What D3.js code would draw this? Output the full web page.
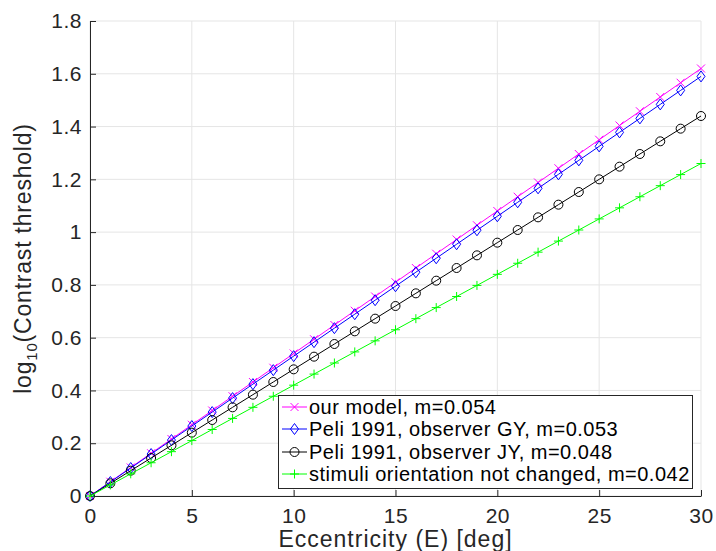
<!DOCTYPE html>
<html><head><meta charset="utf-8">
<script src="https://cdn.jsdelivr.net/npm/d3@7"></script>
<style>body{margin:0;background:#fff}svg text{font-family:"Liberation Sans",Arial,Helvetica,sans-serif;fill:#262626}</style>
</head><body><svg id="c" width="716" height="551"></svg>
<script>
const eccentricity = [0,1,2,3,4,5,6,7,8,9,10,11,12,13,14,15,16,17,18,19,20,21,22,23,24,25,26,27,28,29,30];
const ourModel = [0,0.054,0.108,0.162,0.216,0.27,0.324,0.378,0.432,0.486,0.54,0.594,0.648,0.702,0.756,0.81,0.864,0.918,0.972,1.026,1.08,1.134,1.188,1.242,1.296,1.35,1.404,1.458,1.512,1.566,1.62];
const peliGY = [0,0.053,0.106,0.159,0.212,0.265,0.318,0.371,0.424,0.477,0.53,0.583,0.636,0.689,0.742,0.795,0.848,0.901,0.954,1.007,1.06,1.113,1.166,1.219,1.272,1.325,1.378,1.431,1.484,1.537,1.59];
const peliJY = [0,0.048,0.096,0.144,0.192,0.24,0.288,0.336,0.384,0.432,0.48,0.528,0.576,0.624,0.672,0.72,0.768,0.816,0.864,0.912,0.96,1.008,1.056,1.104,1.152,1.2,1.248,1.296,1.344,1.392,1.44];
const notChanged = [0,0.042,0.084,0.126,0.168,0.21,0.252,0.294,0.336,0.378,0.42,0.462,0.504,0.546,0.588,0.63,0.672,0.714,0.756,0.798,0.84,0.882,0.924,0.966,1.008,1.05,1.092,1.134,1.176,1.218,1.26];
const seriesNames = ["our model, m=0.054","Peli 1991, observer GY, m=0.053","Peli 1991, observer JY, m=0.048","stimuli orientation not changed, m=0.042"];
const xTicks = [0,5,10,15,20,25,30];
const yTicks = [0,0.2,0.4,0.6,0.8,1,1.2,1.4,1.6,1.8];

const series = [
  {name:seriesNames[0], values:ourModel, color:"#ff00ff", marker:"x"},
  {name:seriesNames[1], values:peliGY, color:"#0000ff", marker:"diamond"},
  {name:seriesNames[2], values:peliJY, color:"#000000", marker:"circle"},
  {name:seriesNames[3], values:notChanged, color:"#00ff00", marker:"plus"}
];

const L=90, R=701, T=21, B=496;
const svg = d3.select("#c");
const x = d3.scaleLinear().domain([0,30]).range([L,R]);
const y = d3.scaleLinear().domain([0,1.8]).range([B,T]);

// grid
const g = svg.append("g");
g.selectAll(".vg").data(xTicks).join("line").attr("x1",d=>x(d)).attr("x2",d=>x(d)).attr("y1",T).attr("y2",B).attr("stroke","#e5e5e5").attr("stroke-width",1);
g.selectAll(".hg").data(yTicks).join("line").attr("y1",d=>y(d)).attr("y2",d=>y(d)).attr("x1",L).attr("x2",R).attr("stroke","#e5e5e5").attr("stroke-width",1);

// axes
const xAxis = d3.axisBottom(x).tickValues(xTicks).tickSizeInner(-6).tickSizeOuter(0).tickPadding(12).tickFormat(d3.format("d"));
const yAxis = d3.axisLeft(y).tickValues(yTicks).tickSizeInner(-6).tickSizeOuter(0).tickPadding(8).tickFormat(d=>String(d));
const gx = svg.append("g").attr("transform",`translate(0,${B})`).call(xAxis);
const gy = svg.append("g").attr("transform",`translate(${L},0)`).call(yAxis);
[gx,gy].forEach(a=>{a.select(".domain").attr("stroke","#262626");a.selectAll(".tick line").attr("stroke","#262626");a.selectAll("text").attr("font-size",21).attr("letter-spacing",0.5).attr("fill","#262626").attr("font-family","'Liberation Sans',Arial,sans-serif");});

// lines and markers
function drawMarker(sel, type, color){
  if(type==="x"){
    sel.append("path").attr("d","M-4,-4L4,4M-4,4L4,-4").attr("stroke",color).attr("fill","none");
  } else if(type==="diamond"){
    sel.append("path").attr("d","M0,-5.5L4,0L0,5.5L-4,0Z").attr("stroke",color).attr("fill","none");
  } else if(type==="circle"){
    sel.append("circle").attr("r",4.5).attr("stroke",color).attr("fill","none");
  } else {
    sel.append("path").attr("d","M-4.5,0L4.5,0M0,-4.5L0,4.5").attr("stroke",color).attr("fill","none");
  }
}
const line = d3.line().x((d,i)=>x(eccentricity[i])).y(d=>y(d));
series.forEach(s=>{
  svg.append("path").datum(s.values).attr("d",line).attr("fill","none").attr("stroke",s.color).attr("stroke-width",1);
  s.values.forEach((v,i)=>{
    const m = svg.append("g").attr("transform",`translate(${x(eccentricity[i])},${y(v)})`);
    drawMarker(m, s.marker, s.color);
  });
});

// labels
svg.append("text").attr("x",(L+R)/2+0).attr("y",547).attr("text-anchor","middle").attr("font-size",23).attr("letter-spacing",1).text("Eccentricity (E) [deg]");
const yl = svg.append("text").attr("transform",`translate(31,${(T+B)/2}) rotate(-90)`).attr("text-anchor","middle").attr("font-size",23).attr("letter-spacing",0.8);
yl.append("tspan").text("log");
yl.append("tspan").attr("font-size",15).attr("dy",6).text("10");
yl.append("tspan").attr("dy",-6).text("(Contrast threshold)");

// legend
const lg = svg.append("g");
lg.append("rect").attr("x",278.5).attr("y",395.5).attr("width",414).attr("height",93).attr("fill","#fff").attr("stroke","#262626").attr("stroke-width",1);
const ly = [407,429,452,474];
series.forEach((s,i)=>{
  lg.append("line").attr("x1",282).attr("x2",307).attr("y1",ly[i]).attr("y2",ly[i]).attr("stroke",s.color);
  const m = lg.append("g").attr("transform",`translate(294.5,${ly[i]})`);
  drawMarker(m, s.marker, s.color);
  lg.append("text").attr("x",309).attr("y",ly[i]+7).attr("font-size",20).attr("letter-spacing",0.5).style("fill","#000").text(s.name);
});
</script></body></html>
